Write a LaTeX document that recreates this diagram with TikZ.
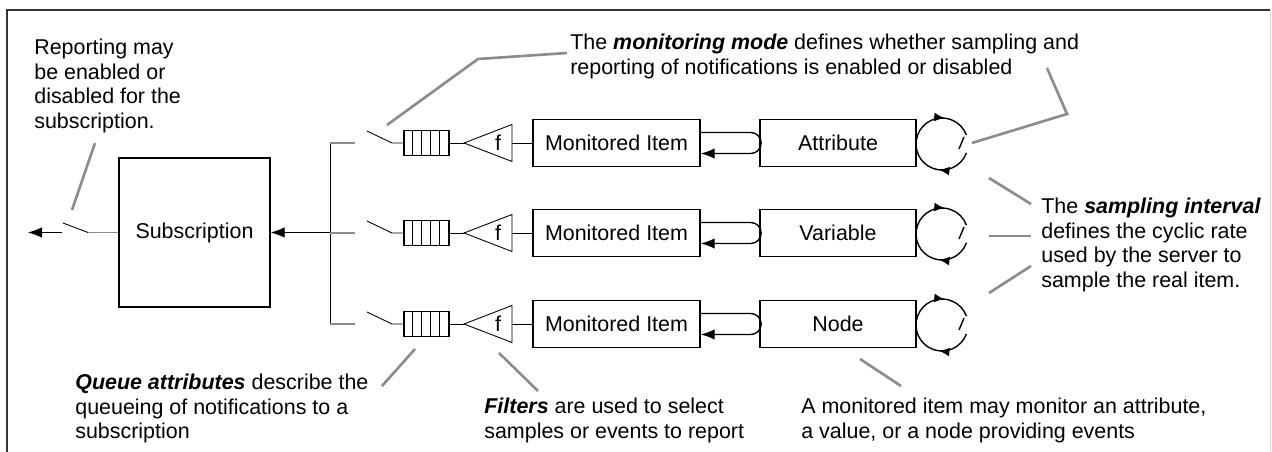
\documentclass[tikz,border=0pt]{standalone}
\usepackage{fontspec}
\setmainfont{Liberation Sans}
\usetikzlibrary{arrows.meta,decorations.markings}

\begin{document}
\begin{tikzpicture}[x=0.02cm,y=0.02cm]
	% Einstellungen für Kästen, Linien und Texte
	\tikzset{
		kasten/.style={
			draw=black, % Schwarze Umrandung
			line width=0.8pt, % Etwas kräftiger
			minimum height=0.94cm, % Höhe der Kästen
			inner sep=0pt,
			font=\fontsize{12.2}{13.9}\selectfont
		},
		schlange/.style={draw=black, line width=0.6pt, minimum width=0.9cm, minimum height=0.5cm, inner sep=0pt}, % Warteschlange
		leitung/.style={draw=black, line width=0.5pt}, % Dünne Verbindung
		zweig/.style={draw=black!45, line width=0.8pt}, % Graue Abzweigung
		hinweis/.style={draw=black!45, line width=1.5pt}, % Graue Hinweislinie
		notiz/.style={anchor=north west, inner sep=0pt, align=left, font=\fontsize{12.2}{13.9}\selectfont}, % Erklärungstext
		pfeil/.style={-{Latex[length=8pt,width=6pt]}},
		zyklus/.style={postaction={decorate}, decoration={markings,
				mark=at position 0.24 with {\arrow{Latex[length=6pt,width=5pt]}},
				mark=at position 0.80 with {\arrow{Latex[length=6pt,width=5pt]}}}}
	}
	
	\useasboundingbox (0,0) rectangle (1272,-452);
	% Rahmen
	\draw[line width=1.2pt, black!80] (7,-452) -- (7,-10) -- (1270,-10);
	\draw[black!15] (1270,-10) -- (1270,-452);
	
	% Subscription mit Schalter und Ausgang
	\node[kasten, minimum width=3.02cm, minimum height=2.98cm] (sub) at (194.5,-232.5) {Subscription};
	\coordinate (sw0) at (88,-232.5);
	\coordinate (swk0) at (63,-223);
	\coordinate (ausst) at (62,-232.5);
	\coordinate (aus) at (28,-232.5);
	\draw[zweig] (sub.west) -- (sw0);
	\draw[leitung] (sw0) -- (swk0);
	\draw[leitung, pfeil] (ausst) -- (aus);
	
	% Sammelleitung
	\coordinate (bus1) at (330,-143);
	\coordinate (bus3) at (330,-324);
	\draw[leitung] (bus1) -- (bus3);
	\draw[leitung, pfeil] (bus1 |- sub.east) -- (sub.east);
	
	% Drei Zeilen mit Monitored Items
	\foreach \i/\y/\src in {1/143/Attribute, 2/233/Variable, 3/324/Node} {
		\coordinate (bus\i) at (330,-\y); % Abzweig an der Sammelleitung
		\coordinate (ast\i) at (355,-\y);
		\coordinate (swk\i) at (367,-\y+12); % Schalter offen
		\coordinate (sw\i) at (392,-\y);
		\draw[zweig] (bus\i) -- (ast\i);
		
		% Warteschlange mit 5 Fächern
		\node[schlange] (q\i) at (426.5,-\y) {};
		\foreach \k in {1,...,4}
			\draw[line width=0.6pt] ([xshift=\k*0.18cm]q\i.north west) -- ([xshift=\k*0.18cm]q\i.south west);
		\draw[leitung] (swk\i) -- (sw\i) -- (q\i.west);
		
		% Filter als Dreieck
		\coordinate (spitze\i) at (464,-\y);
		\coordinate (basis\i) at (512,-\y);
		\draw[leitung] (spitze\i) -- (512,-\y+18.5) -- (512,-\y-18.5) -- cycle;
		\node[font=\fontsize{12.2}{13.9}\selectfont] (f\i) at (498,-\y) {f};
		\draw[leitung] (q\i.east) -- (spitze\i);
		
		% Monitored Item und Quelle
		\node[kasten, minimum width=3.34cm] (mi\i) at (616.5,-\y) {Monitored Item};
		\node[kasten, minimum width=3.12cm] (src\i) at (838,-\y) {\src};
		\draw[leitung] (basis\i) -- (mi\i.west);
		\draw[line width=0.8pt, pfeil] ([yshift=0.21cm]mi\i.east) -- ++(50,0) arc (90:-90:10.5) -- ([yshift=-0.21cm]mi\i.east);
		
		% Abtastzyklus
		\coordinate (zk\i) at (942,-\y-1);
		\draw[line width=0.8pt, zyklus] ([shift={(-20:26)}]zk\i) arc (-20:-340:26);
		\draw[line width=0.8pt] ([shift={(17,-5)}]zk\i) -- ([shift={(22,7)}]zk\i);
	}
	
	% Erklärungstexte
	\node[notiz] (txtrep) at (34,-39) {Reporting may\\be enabled or\\disabled for the\\subscription.};
	\node[notiz] (txtmode) at (570,-34) {The \textbf{\textit{monitoring mode}} defines whether sampling and\\reporting of notifications is enabled or disabled};
	\node[notiz] (txtqueue) at (75,-374) {\textbf{\textit{Queue attributes}} describe the\\queueing of notifications to a\\subscription};
	\node[notiz] (txtfilter) at (484,-398) {\textbf{\textit{Filters}} are used to select\\samples or events to report};
	\node[notiz] (txtsample) at (1041,-198) {The \textbf{\textit{sampling interval}}\\defines the cyclic rate\\used by the server to\\sample the real item.};
	\node[notiz] (txtmon) at (801,-398) {A monitored item may monitor an attribute,\\a value, or a node providing events};
	
	% Hinweislinien
	\coordinate (h1a) at (95,-143);   \coordinate (h1b) at (72,-210);
	\coordinate (h2a) at (567,-53);   \coordinate (h2b) at (478,-59);   \coordinate (h2c) at (387,-125);
	\coordinate (h3a) at (1047,-68);  \coordinate (h3b) at (1067,-114); \coordinate (h3c) at (972,-143);
	\coordinate (h4a) at (415,-349);  \coordinate (h4b) at (382,-386);
	\coordinate (h5a) at (499,-353);  \coordinate (h5b) at (538,-391);
	\coordinate (h6a) at (989,-178);  \coordinate (h6b) at (1031,-204);
	\coordinate (h7a) at (989,-236);  \coordinate (h7b) at (1031,-236);
	\coordinate (h8a) at (989,-293);  \coordinate (h8b) at (1031,-266);
	\coordinate (h9a) at (860,-359);  \coordinate (h9b) at (901,-386);
	\draw[hinweis] (h1a) -- (h1b);
	\draw[hinweis] (h2a) -- (h2b) -- (h2c);
	\draw[hinweis] (h3a) -- (h3b) -- (h3c);
	\draw[hinweis] (h4a) -- (h4b);
	\draw[hinweis] (h5a) -- (h5b);
	\draw[hinweis] (h6a) -- (h6b);
	\draw[hinweis] (h7a) -- (h7b);
	\draw[hinweis] (h8a) -- (h8b);
	\draw[hinweis] (h9a) -- (h9b);
\end{tikzpicture}
\end{document}
